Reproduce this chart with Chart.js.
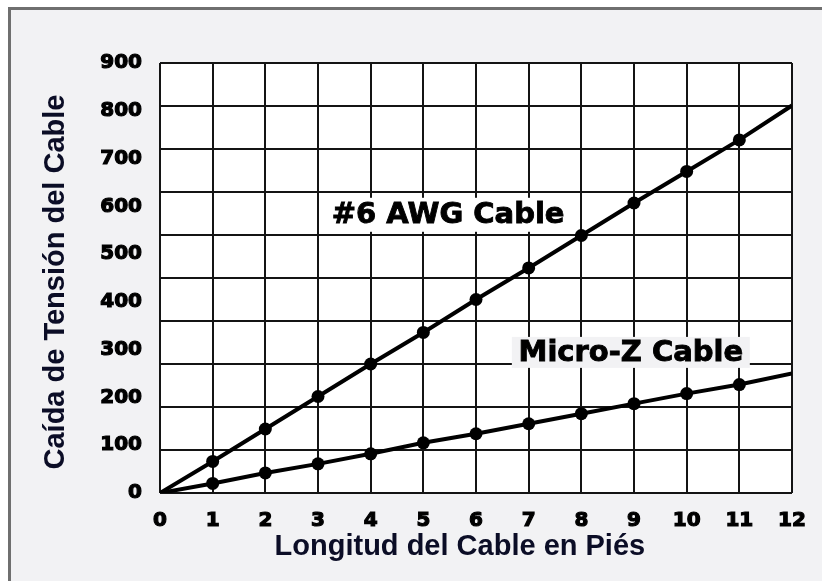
<!DOCTYPE html>
<html>
<head>
<meta charset="utf-8">
<script src="https://cdn.jsdelivr.net/npm/chart.js@4.4.0/dist/chart.umd.min.js"></script>
<style>
  body { margin: 0; background: #ffffff; }
  #frame {
    position: absolute; left: 8px; top: 7px; width: 822px; height: 581px;
    border-left: 3px solid #6f6f6f; border-top: 3px solid #6f6f6f;
    background: #f2f2f4;
  }
  #myChart { position: absolute; left: 0; top: 0; }
</style>
</head>
<body>
<div id="frame"></div>
<canvas id="myChart" width="822" height="581"></canvas>
<script>
// longitud del cable (pies)
var longitud = [0, 1, 2, 3, 4, 5, 6, 7, 8, 9, 10, 11, 12];
// caída de tensión
var awg6 = [0, 66, 134, 202, 270, 336, 405, 471, 539, 607, 673, 739, 811];
var microZ = [0, 20, 42, 61, 82, 105, 124, 145, 166, 187, 208, 227, 250];
var yTicks = [0, 100, 200, 300, 400, 500, 600, 700, 800, 900];

var tickFont = { family: 'DejaVu Sans', weight: 'bold', size: 20 };
var titleFont = { family: 'Liberation Sans, Arial', weight: 'bold', size: 29 };

function puntos(vals) {
  return longitud.map(function (x, i) { return { x: x, y: vals[i] }; });
}

function radio(c) {
  return (c.dataIndex === 0 || c.dataIndex === longitud.length - 1) ? 0 : 6.5;
}

// fondo blanco del área y rótulos de las curvas
var fondoYRotulos = {
  id: 'fondoYRotulos',
  beforeDraw: function (chart) {
    var a = chart.chartArea, c = chart.ctx;
    c.save();
    c.fillStyle = '#ffffff';
    c.fillRect(a.left, a.top, a.right - a.left, a.bottom - a.top);
    c.restore();
  },
  afterDraw: function (chart) {
    var c = chart.ctx;
    var xs = chart.scales.x, ys = chart.scales.yGrid;
    var rotulos = [
      { text: '#6 AWG Cable', x: 5.47, y: 6.47, bg: '#ffffff', w: 248, h: 34 },
      { text: 'Micro-Z Cable', x: 8.94, y: 3.27, bg: '#f2f2f4', w: 238, h: 31 }
    ];
    c.save();
    c.font = 'bold 29px "DejaVu Sans"';
    c.textAlign = 'center';
    c.textBaseline = 'middle';
    c.lineWidth = 0.9;
    c.strokeStyle = '#000000';
    rotulos.forEach(function (r) {
      var px = xs.getPixelForValue(r.x), py = ys.getPixelForValue(r.y);
      c.fillStyle = r.bg;
      c.fillRect(px - r.w / 2, py - r.h / 2, r.w, r.h);
      c.fillStyle = '#000000';
      c.fillText(r.text, px, py + 1);
      c.strokeText(r.text, px, py + 1);
    });
    c.restore();
  }
};

var ctx = document.getElementById('myChart').getContext('2d');
var myChart = new Chart(ctx, {
  type: 'line',
  data: {
    datasets: [{
      label: '#6 AWG Cable',
      data: puntos(awg6),
      borderColor: '#000000',
      backgroundColor: '#000000',
      borderWidth: 4,
      pointRadius: radio,
      pointBackgroundColor: '#000000',
      pointBorderWidth: 0,
      yAxisID: 'y'
    }, {
      label: 'Micro-Z Cable',
      data: puntos(microZ),
      borderColor: '#000000',
      backgroundColor: '#000000',
      borderWidth: 4,
      pointRadius: radio,
      pointBackgroundColor: '#000000',
      pointBorderWidth: 0,
      yAxisID: 'y'
    }]
  },
  plugins: [fondoYRotulos],
  options: {
    responsive: false,
    animation: false,
    devicePixelRatio: 1,
    layout: { padding: { left: 30, right: 30, top: 63, bottom: 0 } },
    plugins: {
      legend: { display: false },
      tooltip: { enabled: false }
    },
    scales: {
      x: {
        type: 'linear',
        min: 0,
        max: 12,
        afterFit: function (s) { s.height = 88; },
        ticks: { stepSize: 1, color: '#000000', font: tickFont, padding: 16,
                 textStrokeColor: '#000000', textStrokeWidth: 1.2 },
        grid: { color: '#141414', lineWidth: 2, drawTicks: false },
        border: { display: false },
        title: {
          display: true,
          text: 'Longitud del Cable en Piés    ',
          color: '#0b0d26',
          font: titleFont,
          padding: { top: 0, bottom: 17 }
        }
      },
      y: {
        position: 'left',
        min: 0,
        max: 900,
        afterFit: function (s) { s.width = 130; },
        afterBuildTicks: function (s) {
          s.ticks = yTicks.map(function (v) { return { value: v }; });
        },
        ticks: { color: '#000000', font: tickFont, padding: 18,
                 textStrokeColor: '#000000', textStrokeWidth: 1.2 },
        grid: { display: false, drawTicks: false },
        border: { display: false },
        title: {
          display: true,
          text: 'Caída de Tensión del Cable ',
          color: '#0b0d26',
          font: titleFont,
          padding: { top: 9, bottom: 0 }
        }
      },
      yGrid: {
        position: 'right',
        min: 0,
        max: 10,
        afterFit: function (s) { s.width = 0; },
        ticks: { display: false, stepSize: 1 },
        grid: { color: '#141414', lineWidth: 2, drawTicks: false },
        border: { display: false }
      }
    }
  }
});
</script>
</body>
</html>
